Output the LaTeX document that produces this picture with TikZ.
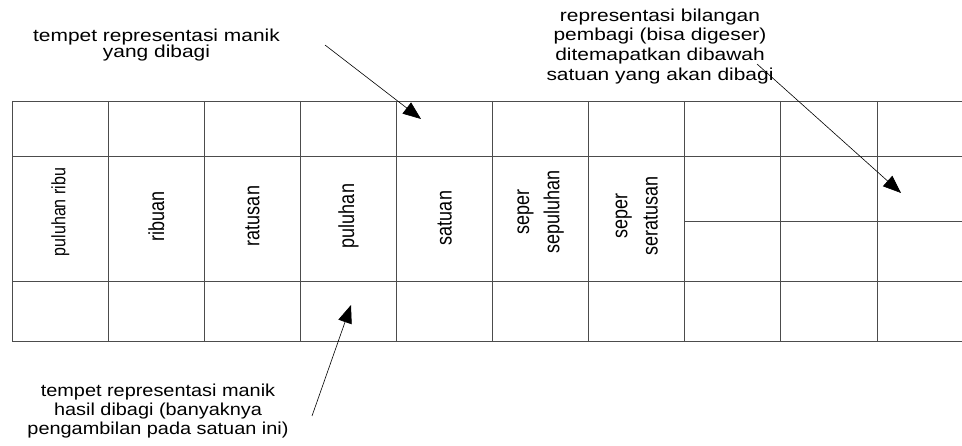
\documentclass[tikz,border=0pt]{standalone}
\usepackage{fontspec}
\setmainfont{Liberation Sans}
\newfontfamily\lblfont[FakeStretch=1.21]{Liberation Sans}
\newfontfamily\hasilfont[FakeStretch=1.15]{Liberation Sans}
\usetikzlibrary{arrows.meta}
\tikzset{
  grid line/.style={draw=black!70,line width=0.9pt},
  lbl/.style={font=\lblfont\fontsize{17.3}{19.6}\selectfont,align=center,inner sep=0pt},
  cell/.style={font=\fontsize{18}{25}\selectfont,align=center,inner sep=0pt,xscale=1.21,rotate=90},
  pointer/.style={->,line width=0.6pt}
}
\begin{document}
\begin{tikzpicture}[x=1pt,y=-1pt,>={Triangle[length=18pt,width=14pt]}]
\useasboundingbox (0,0) rectangle (962,446);
% table
\foreach \i in {0,...,9}
  \draw[grid line] ({12.3+96.08*\i},101) -- ({12.3+96.08*\i},341);
\foreach \y in {101,156,281,341}
  \draw[grid line] (12.3,\y) -- (962,\y);
\draw[grid line] (685,221) -- (962,221);
% place values
\node[cell,font=\fontsize{16}{20}\selectfont] (col0) at (60.3,212) {puluhan ribu};
\foreach \name/\yc [count=\i from 1] in {ribuan/216,ratusan/216,puluhan/216,satuan/218,seper\\sepuluhan/212,seper\\seratusan/216}
  \node[cell] (col\i) at ({60.3+96.08*\i},\yc) {\name};
% notes
\node[lbl,font=\lblfont\fontsize{17.3}{16.5}\selectfont] (dibagi) at (156.5,44.9) {tempet representasi manik\\yang dibagi};
\node[lbl] (pembagi) at (660,46.2) {representasi bilangan\\pembagi (bisa digeser)\\ditemapatkan dibawah\\satuan yang akan dibagi};
\node[lbl,font=\hasilfont\fontsize{17.3}{19}\selectfont] (hasil) at (158,411) {tempet representasi manik\\hasil dibagi (banyaknya\\pengambilan pada satuan ini)};
% pointers
\coordinate (a1) at (325,45);
\coordinate (t1) at (421,119);
\coordinate (a2) at (757,64);
\coordinate (t2) at (901,193);
\coordinate (a3) at (312,416);
\coordinate (t3) at (351,305);
\draw[pointer] (a1) -- (t1);
\draw[pointer] (a2) -- (t2);
\draw[pointer] (a3) -- (t3);
\end{tikzpicture}
\end{document}
